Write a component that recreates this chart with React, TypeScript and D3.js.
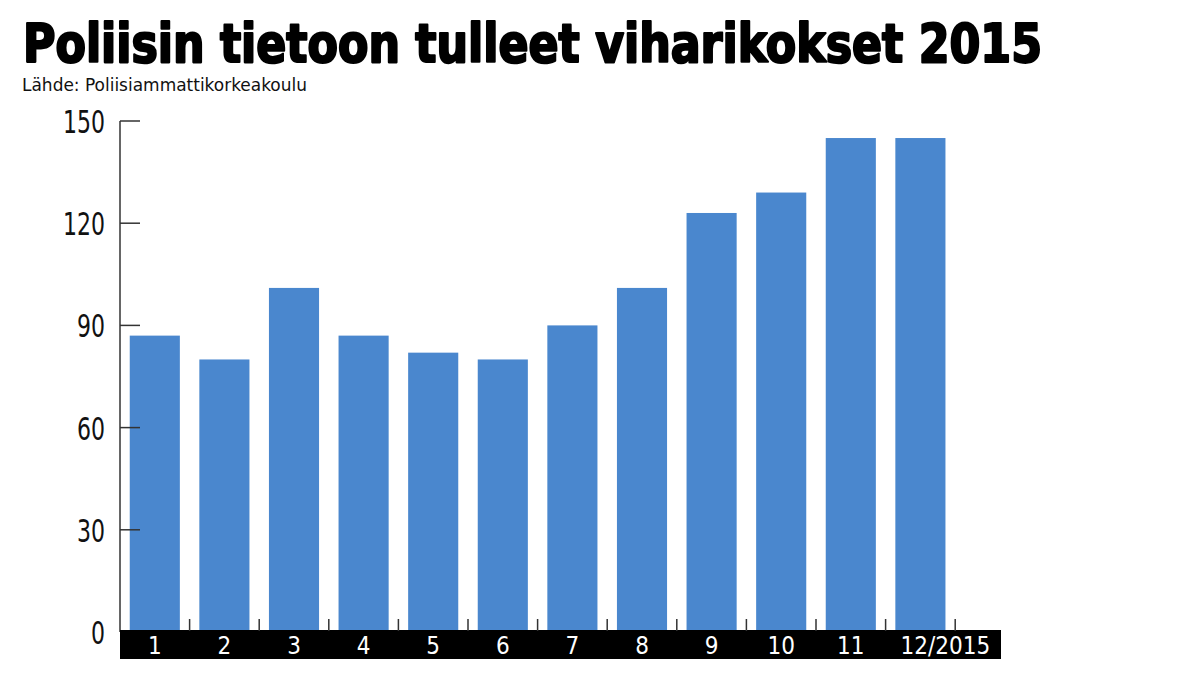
import * as d3 from "d3";
import { useEffect, useRef } from "react";

const WIDTH = 1198;
const HEIGHT = 674;
const MARGIN = { top: 121, left: 120, bottom: 632 };

const TITLE = "Poliisin tietoon tulleet viharikokset 2015";
const SOURCE = "Lähde: Poliisiammattikorkeakoulu";
const MONTHS = ["1", "2", "3", "4", "5", "6", "7", "8", "9", "10", "11", "12/2015"];
const VALUES = [87, 80, 101, 87, 82, 80, 90, 101, 123, 129, 145, 145];
const Y_TICKS = [0, 30, 60, 90, 120, 150];

const BAR_COLOR = "#4a87ce";
const NARROW = "'Liberation Sans Narrow', 'DejaVu Sans Condensed', sans-serif";

export default function App() {
  const svgRef = useRef<SVGSVGElement>(null);

  useEffect(() => {
    if (!svgRef.current) return;
    const svg = d3.select(svgRef.current);
    svg.selectAll("*").remove();

    const x = d3
      .scaleBand()
      .domain(MONTHS)
      .range([MARGIN.left, MARGIN.left + 12 * 69.6])
      .paddingInner(0.28)
      .paddingOuter(0.14);

    const y = d3.scaleLinear().domain([0, 150]).range([MARGIN.bottom, MARGIN.top]);

    // otsikko
    svg
      .append("text")
      .attr("x", 23)
      .attr("y", 62)
      .attr("font-family", "'DejaVu Sans Condensed', 'DejaVu Sans', sans-serif")
      .attr("font-weight", 900)
      .attr("font-size", 54)
      .attr("textLength", 1019)
      .attr("lengthAdjust", "spacingAndGlyphs")
      .attr("fill", "#000")
      .attr("stroke", "#000")
      .attr("stroke-width", 2.2)
      .attr("stroke-linejoin", "round")
      .text(TITLE);

    svg
      .append("text")
      .attr("x", 22)
      .attr("y", 91)
      .attr("font-family", NARROW)
      .attr("font-size", 18)
      .attr("textLength", 285)
      .attr("lengthAdjust", "spacingAndGlyphs")
      .attr("fill", "#111")
      .text(SOURCE);

    // pylväät
    svg
      .append("g")
      .selectAll("rect")
      .data(VALUES)
      .enter()
      .append("rect")
      .attr("x", (_, i) => x(MONTHS[i])!)
      .attr("y", (d) => y(d))
      .attr("width", x.bandwidth())
      .attr("height", (d) => y(0) - y(d))
      .attr("fill", BAR_COLOR);

    // Y-akseli
    svg
      .append("line")
      .attr("x1", MARGIN.left)
      .attr("x2", MARGIN.left)
      .attr("y1", y(150))
      .attr("y2", y(0))
      .attr("stroke", "#333")
      .attr("stroke-width", 1.5);

    const yTicks = svg.append("g");
    Y_TICKS.forEach((t) => {
      if (t > 0) {
        yTicks
          .append("line")
          .attr("x1", MARGIN.left)
          .attr("x2", MARGIN.left + 20)
          .attr("y1", y(t))
          .attr("y2", y(t))
          .attr("stroke", "#333")
          .attr("stroke-width", 1.5);
      }
      const label = String(t);
      yTicks
        .append("text")
        .attr("x", 105)
        .attr("y", y(t) + 12)
        .attr("text-anchor", "end")
        .attr("font-family", NARROW)
        .attr("font-size", 32)
        .attr("textLength", label.length * 14)
        .attr("lengthAdjust", "spacingAndGlyphs")
        .attr("fill", "#111")
        .text(label);
    });

    // X-akselin musta nauha
    svg
      .append("rect")
      .attr("x", MARGIN.left)
      .attr("y", 630)
      .attr("width", 1001 - MARGIN.left)
      .attr("height", 29)
      .attr("fill", "#000");

    const step = x.step();
    const start = x.range()[0];
    d3.range(1, 13).forEach((i) => {
      svg
        .append("line")
        .attr("x1", start + i * step)
        .attr("x2", start + i * step)
        .attr("y1", 619)
        .attr("y2", 631)
        .attr("stroke", "#333")
        .attr("stroke-width", 1.5);
    });

    svg
      .append("g")
      .selectAll("text")
      .data(MONTHS)
      .enter()
      .append("text")
      .attr("x", (d) => x(d)! + x.bandwidth() / 2)
      .attr("dx", (_, i) => (i === MONTHS.length - 1 ? 25 : 0))
      .attr("y", 654)
      .attr("text-anchor", "middle")
      .attr("font-family", NARROW)
      .attr("font-size", 24)
      .attr("fill", "#fff")
      .text((d) => d);
  }, []);

  return (
    <svg
      ref={svgRef}
      width={WIDTH}
      height={HEIGHT}
      style={{ position: "absolute", left: 0, top: 0, background: "#fff" }}
    />
  );
}
